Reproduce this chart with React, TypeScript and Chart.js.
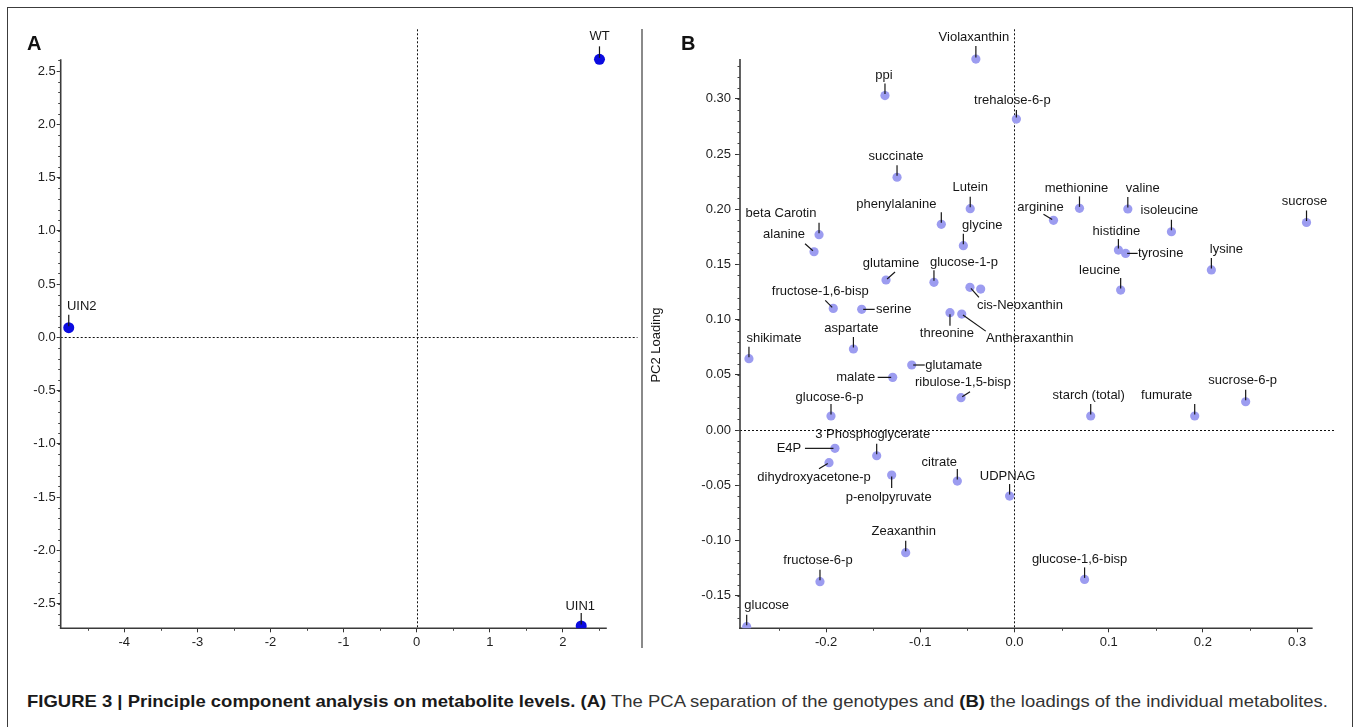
import React, { useEffect, useLayoutEffect, useRef } from 'react';
import { Chart, registerables } from 'chart.js';

Chart.register(...registerables);

// ---------------- Panel A: PCA scores of genotypes ----------------
const GENOTYPES = ['WT', 'UIN2', 'UIN1'];
const PC1_SCORES = [2.5, -4.76, 2.25];
const PC2_SCORES = [2.61, 0.09, -2.71];
const A_X_TICKS = [-4, -3, -2, -1, 0, 1, 2];
const A_Y_TICKS = [-2.5, -2, -1.5, -1, -0.5, 0, 0.5, 1, 1.5, 2, 2.5];

// ---------------- Panel B: PC loadings of metabolites ----------------
const METABOLITES = [
  'Violaxanthin', 'ppi', 'trehalose-6-p', 'succinate', 'Lutein', 'phenylalanine',
  'beta Carotin', 'glycine', 'alanine', 'methionine', 'valine', 'arginine',
  'isoleucine', 'sucrose', 'histidine', 'tyrosine', 'lysine', 'leucine',
  'sucrose-6-p', 'starch (total)', 'fumurate', 'glutamine', 'glucose-1-p', 'cis-Neoxanthin',
  '', 'fructose-1,6-bisp', 'serine', 'threonine', 'Antheraxanthin', 'aspartate',
  'shikimate', 'glutamate', 'malate', 'ribulose-1,5-bisp', 'glucose-6-p', 'E4P',
  '3 Phosphoglycerate', 'dihydroxyacetone-p', 'p-enolpyruvate', 'citrate', 'UDPNAG', 'Zeaxanthin',
  'fructose-6-p', 'glucose', 'glucose-1,6-bisp',
];
const PC1_LOADINGS = [
  -0.041, -0.1375, 0.002, -0.1247, -0.047, -0.0777,
  -0.2075, -0.0543, -0.2128, 0.069, 0.1203, 0.0414,
  0.1666, 0.31, 0.1103, 0.118, 0.209, 0.1127,
  0.2454, 0.0809, 0.1913, -0.1364, -0.0855, -0.0473,
  -0.0359, -0.1924, -0.1622, -0.0685, -0.056, -0.171,
  -0.2819, -0.1091, -0.1293, -0.0568, -0.1948, -0.1906,
  -0.1463, -0.1969, -0.1304, -0.0607, -0.0052, -0.1155,
  -0.2065, -0.2843, 0.0744,
];
const PC2_LOADINGS = [
  0.336, 0.303, 0.2817, 0.229, 0.2005, 0.1863,
  0.177, 0.167, 0.1615, 0.2008, 0.2002, 0.19,
  0.1796, 0.188, 0.163, 0.16, 0.145, 0.1268,
  0.0256, 0.0127, 0.0127, 0.1359, 0.1338, 0.1293,
  0.1277, 0.1102, 0.1093, 0.1063, 0.105, 0.0734,
  0.0646, 0.0589, 0.0477, 0.0293, 0.0127, -0.0166,
  -0.0233, -0.0296, -0.0408, -0.0462, -0.0598, -0.1111,
  -0.1374, -0.1781, -0.1353,
];
const B_X_TICKS = [-0.2, -0.1, 0, 0.1, 0.2, 0.3];
const B_Y_TICKS = [-0.15, -0.1, -0.05, 0, 0.05, 0.1, 0.15, 0.2, 0.25, 0.3];

// ---------------- Label layout (pixel offsets: label centre dx,dy ; leader end lx,ly) ----------------
const A_LABEL_LAYOUT = [
  [0, -23, 0, -13],
  [13, -21, 0, -13],
  [-1, -20, 0, -13],
];
const B_LABEL_LAYOUT = [
  [-2, -22, 0, -13], [-1, -20, 0, -12], [-4, -19, 0, -9], [-1, -21, 0, -12], [0, -21, 0, -12], [-45, -20, 0, -12],
  [-38, -21, 0, -12], [19, -20, 0, -12], [-30, -17, -9, -8], [-3, -20, 0, -12], [15, -21, 0, -12], [-13, -13, -10, -6],
  [-2, -21, 0, -12], [-2, -21, 0, -12], [-2, -19, 0, -11], [35, 0, 12, 0], [15, -21, 0, -12], [-21, -20, 0, -12],
  [-3, -21, 0, -12], [-2, -21, 0, -12], [-28, -21, 0, -12], [5, -17, 9, -8], [30, -20, 0, -12], [50, 18, 9, 10],
  [0, 0, 0, 0], [-13, -17, -8, -8], [32, 0, 13, 0], [-3, 21, 0, 13], [68, 24, 24, 17], [-2, -21, 0, -12],
  [25, -20, 0, -12], [42, 0, 13, 0], [-37, 0, -15, 0], [2, -15, 9, -6], [-1.5, -19, 0, -12], [-46, 0, -30, 0],
  [-4, -21, 0, -12], [-15, 15, -10, 6], [-3, 22, 0, 13], [-18, -19, 0, -12], [-2, -20, 0, -12], [-2, -21, 0, -12],
  [-2, -21, 0, -12], [20, -21, 0, -12], [-5, -20, 0, -12],
];

const FONT = '"Liberation Sans", Arial, Helvetica, sans-serif';

function range(start: number, end: number, step: number) {
  const out: number[] = [];
  const n = Math.round((end - start) / step);
  for (let i = 0; i <= n; i++) out.push(+(start + i * step).toFixed(6));
  return out;
}

type PanelCfg = {
  id: string;
  width: number;
  height: number;
  names: string[];
  xs: number[];
  ys: number[];
  layout: number[][];
  xTicks: number[];
  yTicks: number[];
  fmtX: (v: number) => string;
  fmtY: (v: number) => string;
  xMin: number; xMax: number; yMin: number; yMax: number;
  xAxisEnd: number; yAxisTop: number;
  xMinor: number[]; yMinor: number[];
  yWidth: number; xHeight: number;
  padding: { top: number; left: number; right: number; bottom: number };
  yTickLength: number; yTickPadding: number;
  pointRadius: number; pointColor: string;
  yTitle?: { text: string; x: number; y: number };
};

function line(ctx: CanvasRenderingContext2D, x1: number, y1: number, x2: number, y2: number) {
  ctx.beginPath();
  ctx.moveTo(x1, y1);
  ctx.lineTo(x2, y2);
  ctx.stroke();
}

function makePlugin(cfg: PanelCfg) {
  return {
    id: 'panel' + cfg.id,
    beforeDatasetsDraw(chart: any) {
      const { ctx, chartArea: a, scales } = chart;
      const x = scales.x;
      const y = scales.y;
      ctx.save();
      // dotted zero lines
      ctx.strokeStyle = '#111';
      ctx.lineWidth = 1;
      ctx.setLineDash([2, 2]);
      const x0 = Math.round(x.getPixelForValue(0)) + 0.5;
      const y0 = Math.round(y.getPixelForValue(0)) + 0.5;
      line(ctx, x0, a.top, x0, a.bottom);
      line(ctx, a.left, y0, a.right, y0);
      ctx.setLineDash([]);
      // axis lines
      ctx.strokeStyle = '#3a3a3a';
      ctx.lineWidth = 1.6;
      line(ctx, a.left, y.getPixelForValue(cfg.yAxisTop), a.left, a.bottom + 0.8);
      line(ctx, a.left - 0.8, a.bottom, x.getPixelForValue(cfg.xAxisEnd), a.bottom);
      // minor ticks
      ctx.lineWidth = 1;
      ctx.strokeStyle = '#444';
      cfg.xMinor.forEach((v) => {
        const p = Math.round(x.getPixelForValue(v)) + 0.5;
        line(ctx, p, a.bottom, p, a.bottom + 2.5);
      });
      cfg.yMinor.forEach((v) => {
        const p = Math.round(y.getPixelForValue(v)) + 0.5;
        line(ctx, a.left - 2.5, p, a.left, p);
      });
      ctx.restore();
    },
    afterDatasetsDraw(chart: any) {
      const { ctx, scales } = chart;
      const x = scales.x;
      const y = scales.y;
      ctx.save();
      ctx.font = '13px ' + FONT;
      ctx.fillStyle = '#161616';
      ctx.strokeStyle = '#161616';
      ctx.lineWidth = 1.2;
      ctx.textAlign = 'center';
      ctx.textBaseline = 'middle';
      cfg.names.forEach((name, i) => {
        if (!name) return;
        const px = x.getPixelForValue(cfg.xs[i]);
        const py = y.getPixelForValue(cfg.ys[i]);
        const [dx, dy, lx, ly] = cfg.layout[i];
        const len = Math.hypot(lx, ly);
        if (len > 0) {
          const ux = lx / len;
          const uy = ly / len;
          line(ctx, px + ux * 1.5, py + uy * 1.5, px + lx, py + ly);
        }
        ctx.fillText(name, px + dx, py + dy);
      });
      if (cfg.yTitle) {
        ctx.save();
        ctx.translate(cfg.yTitle.x, cfg.yTitle.y);
        ctx.rotate(-Math.PI / 2);
        ctx.fillText(cfg.yTitle.text, 0, 0);
        ctx.restore();
      }
      ctx.restore();
    },
  };
}

function ScatterPanel({ cfg, left, top }: { cfg: PanelCfg; left: number; top: number }) {
  const ref = useRef<HTMLCanvasElement>(null);
  useEffect(() => {
    if (!ref.current) return;
    const tickFont = { family: FONT, size: 13 };
    const chart = new Chart(ref.current, {
      type: 'scatter',
      data: {
        datasets: [
          {
            data: cfg.xs.map((v, i) => ({ x: v, y: cfg.ys[i] })),
            pointRadius: cfg.pointRadius,
            pointHoverRadius: cfg.pointRadius,
            pointBackgroundColor: cfg.pointColor,
            pointBorderColor: cfg.pointColor,
            pointBorderWidth: 0,
            showLine: false,
            clip: 0,
          } as any,
        ],
      },
      options: {
        responsive: false,
        maintainAspectRatio: false,
        animation: false,
        events: [],
        layout: { padding: cfg.padding },
        plugins: { legend: { display: false }, tooltip: { enabled: false } },
        scales: {
          x: {
            type: 'linear',
            position: 'bottom',
            min: cfg.xMin,
            max: cfg.xMax,
            afterBuildTicks: (s: any) => {
              s.ticks = cfg.xTicks.map((v) => ({ value: v }));
            },
            afterFit: (s: any) => {
              s.height = cfg.xHeight;
            },
            ticks: {
              callback: (v: any) => cfg.fmtX(Number(v)),
              font: tickFont,
              color: '#1e1e1e',
              padding: 2,
              maxRotation: 0,
              autoSkip: false,
            },
            grid: { drawOnChartArea: false, drawTicks: true, tickLength: 4, color: '#333', lineWidth: 1 },
            border: { display: false },
          },
          y: {
            type: 'linear',
            position: 'left',
            min: cfg.yMin,
            max: cfg.yMax,
            afterBuildTicks: (s: any) => {
              s.ticks = cfg.yTicks.map((v) => ({ value: v }));
            },
            afterFit: (s: any) => {
              s.width = cfg.yWidth;
            },
            ticks: {
              callback: (v: any) => cfg.fmtY(Number(v)),
              font: tickFont,
              color: '#1e1e1e',
              padding: cfg.yTickPadding,
              autoSkip: false,
            },
            grid: { drawOnChartArea: false, drawTicks: true, tickLength: cfg.yTickLength, color: '#333', lineWidth: 1 },
            border: { display: false },
          },
        },
      } as any,
      plugins: [makePlugin(cfg)],
    });
    return () => chart.destroy();
  }, [cfg]);
  return (
    <canvas
      ref={ref}
      width={cfg.width}
      height={cfg.height}
      style={{ position: 'absolute', left, top, width: cfg.width, height: cfg.height }}
    />
  );
}

const PANEL_A: PanelCfg = {
  id: 'A',
  width: 643,
  height: 660,
  names: GENOTYPES,
  xs: PC1_SCORES,
  ys: PC2_SCORES,
  layout: A_LABEL_LAYOUT,
  xTicks: A_X_TICKS,
  yTicks: A_Y_TICKS,
  fmtX: (v) => String(v),
  fmtY: (v) => v.toFixed(1),
  xMin: -4.87, xMax: 3.02, yMin: -2.732, yMax: 2.892,
  xAxisEnd: 2.6, yAxisTop: 2.61,
  xMinor: range(-4.5, 2.5, 1),
  yMinor: range(-2.7, 2.6, 0.1),
  yWidth: 60.7, xHeight: 31.7,
  padding: { top: 29.3, left: 0, right: 5.5, bottom: 0 },
  yTickLength: 4, yTickPadding: 1,
  pointRadius: 5.5, pointColor: '#0b0be0',
};

const PANEL_B: PanelCfg = {
  id: 'B',
  width: 717,
  height: 660,
  names: METABOLITES,
  xs: PC1_LOADINGS,
  ys: PC2_LOADINGS,
  layout: B_LABEL_LAYOUT,
  xTicks: B_X_TICKS,
  yTicks: B_Y_TICKS,
  fmtX: (v) => v.toFixed(1),
  fmtY: (v) => v.toFixed(2),
  xMin: -0.2914, xMax: 0.3413, yMin: -0.1796, yMax: 0.363,
  xAxisEnd: 0.3165, yAxisTop: 0.336,
  xMinor: range(-0.25, 0.25, 0.1),
  yMinor: range(-0.17, 0.33, 0.01),
  yWidth: 97, xHeight: 31.7,
  padding: { top: 29.3, left: 0, right: 24, bottom: 0 },
  yTickLength: 5, yTickPadding: 4,
  pointRadius: 4.6, pointColor: '#9c9cf0',
  yTitle: { text: 'PC2 Loading', x: 13.7, y: 345 },
};

const CAPTION_WIDTH = 1301;

function Caption() {
  const ref = useRef<HTMLSpanElement>(null);
  useLayoutEffect(() => {
    const el = ref.current;
    if (!el) return;
    el.style.transform = 'none';
    const w = el.getBoundingClientRect().width;
    if (w > 0) el.style.transform = `scaleX(${CAPTION_WIDTH / w})`;
  }, []);
  return (
    <div
      style={{
        position: 'absolute',
        left: 26.7,
        top: 692,
        whiteSpace: 'nowrap',
        fontFamily: '"Liberation Sans Narrow", "Arial Narrow", "Liberation Sans", Arial, sans-serif',
        fontSize: 17,
        lineHeight: '20px',
        color: '#333',
      }}
    >
      <span ref={ref} style={{ display: 'inline-block', transformOrigin: '0 0' }}>
        <b style={{ color: '#1a1a1a' }}>FIGURE 3 | Principle component analysis on metabolite levels.</b>{' '}
        <b style={{ color: '#1a1a1a' }}>(A)</b> The PCA separation of the genotypes and{' '}
        <b style={{ color: '#1a1a1a' }}>(B)</b> the loadings of the individual metabolites.
      </span>
    </div>
  );
}

const panelLetter: React.CSSProperties = {
  position: 'absolute',
  top: 32,
  fontFamily: FONT,
  fontWeight: 'bold',
  fontSize: 20,
  lineHeight: '22px',
  color: '#111',
};

export default function App() {
  return (
    <div
      style={{
        position: 'fixed',
        left: 0,
        top: 0,
        width: 1360,
        height: 727,
        overflow: 'hidden',
        background: '#fff',
      }}
    >
      <div
        style={{
          position: 'absolute',
          left: 7,
          top: 7,
          width: 1346,
          height: 760,
          border: '1.5px solid #3c3c3c',
          boxSizing: 'border-box',
        }}
      />
      <ScatterPanel cfg={PANEL_A} left={0} top={0} />
      <div
        style={{ position: 'absolute', left: 641, top: 29, width: 2, height: 619, background: '#8a8a8a' }}
      />
      <ScatterPanel cfg={PANEL_B} left={643} top={0} />
      <div style={{ ...panelLetter, left: 27 }}>A</div>
      <div style={{ ...panelLetter, left: 681 }}>B</div>
      <Caption />
    </div>
  );
}
